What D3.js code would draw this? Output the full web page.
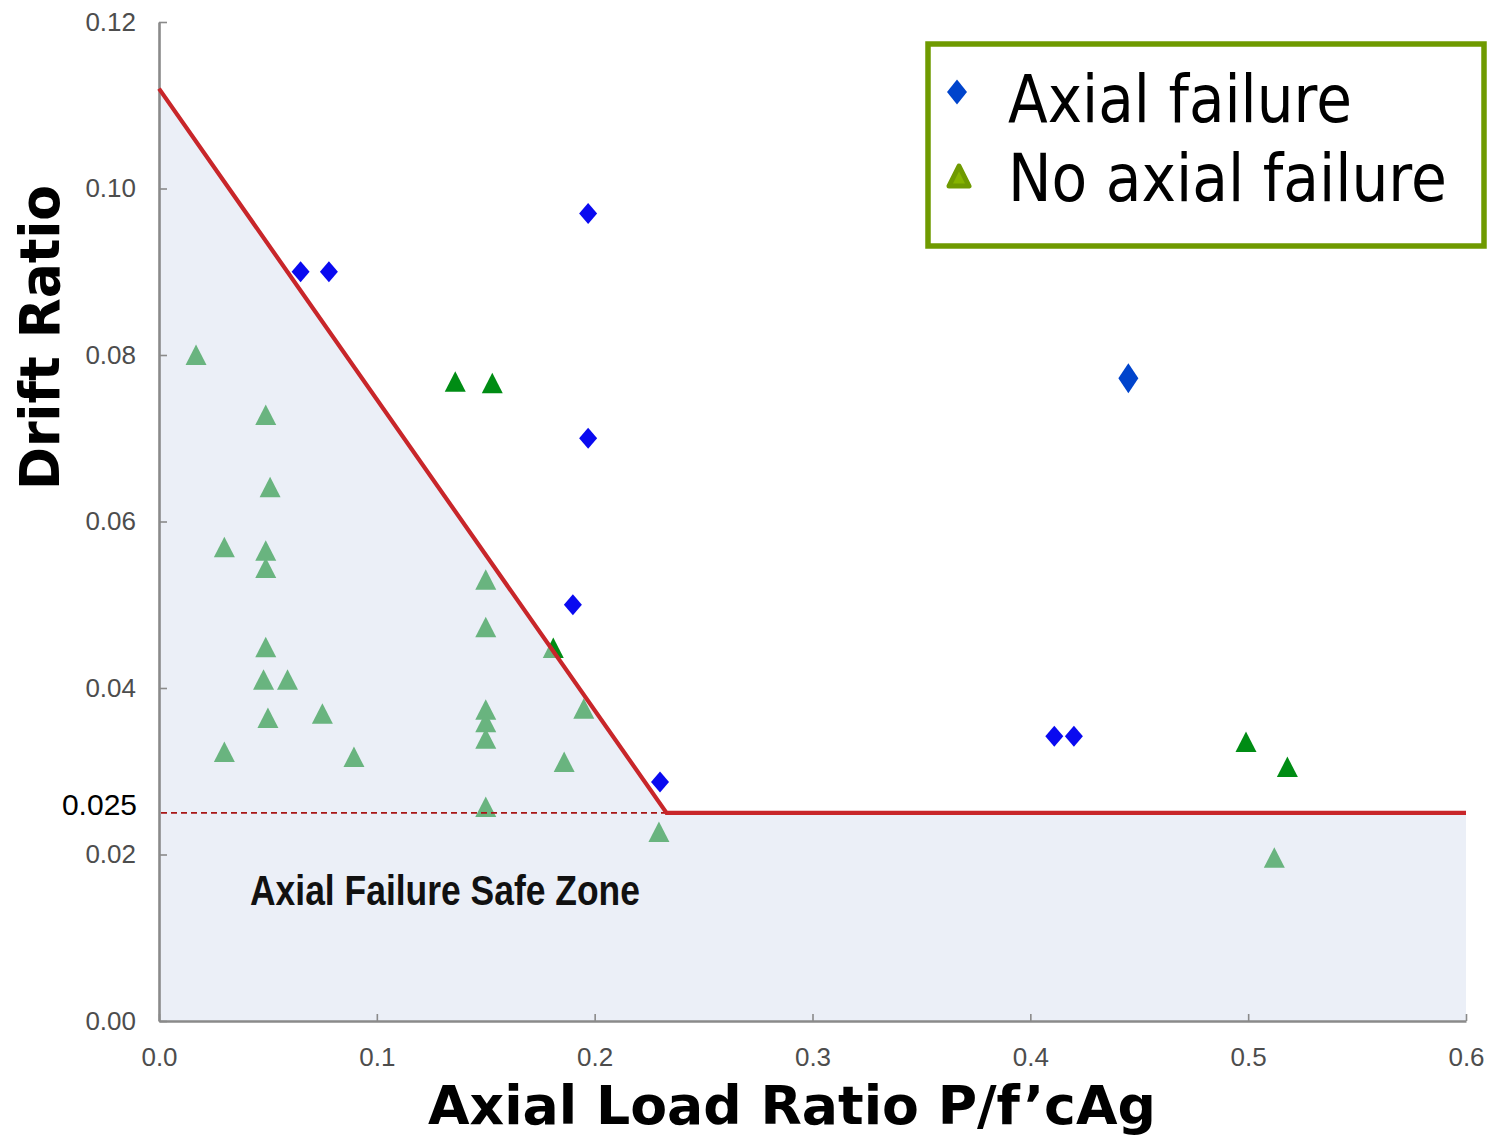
<!DOCTYPE html>
<html>
<head>
<meta charset="utf-8">
<script src="https://cdn.jsdelivr.net/npm/d3@7"></script>
<style>
  html, body { margin: 0; padding: 0; background: #ffffff; }
  svg { display: block; }
</style>
</head>
<body>
<svg id="chart" width="1493" height="1137"></svg>
<script>
// Axial load ratio vs drift ratio at axial failure for column tests

// Columns that reached axial failure: [axial load ratio, drift ratio]
const axialFailureX = [0.065, 0.078, 0.197, 0.197, 0.190, 0.230, 0.411, 0.420];
const axialFailureY = [0.090, 0.090, 0.097, 0.070, 0.050, 0.0287, 0.0342, 0.0342];

// Second group of axial-failure tests
const axialFailure2X = [0.445];
const axialFailure2Y = [0.0772];

// Columns without axial failure
const noFailureX = [0.017, 0.049, 0.051, 0.030, 0.049, 0.049, 0.049, 0.048, 0.059, 0.050,
                    0.075, 0.030, 0.0895, 0.136, 0.153, 0.150, 0.150, 0.150, 0.150, 0.150,
                    0.181, 0.195, 0.186, 0.150, 0.2295, 0.499, 0.518, 0.512];
const noFailureY = [0.080, 0.0728, 0.0641, 0.0569, 0.0565, 0.0544, 0.0449, 0.0410, 0.0410, 0.0364,
                    0.0369, 0.0323, 0.0317, 0.0768, 0.0766, 0.0530, 0.0473, 0.0374, 0.0359, 0.0339,
                    0.0448, 0.0375, 0.0311, 0.0257, 0.0227, 0.0335, 0.0305, 0.0196];

// Safe-zone boundary (bilinear limit)
const limitX = [0, 0.233, 0.6];
const limitY = [0.112, 0.025, 0.025];
const limitDrift = 0.025;

// Axis ticks
const xTicks = [0, 0.1, 0.2, 0.3, 0.4, 0.5, 0.6];
const yTicks = [0, 0.02, 0.04, 0.06, 0.08, 0.10, 0.12];

// Legend entries
const legendLabels = ["Axial failure", "No axial failure"];

const svg = d3.select("#chart");

const x = d3.scaleLinear().domain([0, 0.6]).range([159, 1466]);
const y = d3.scaleLinear().domain([0, 0.12]).range([1021, 22]);

// Marker shapes
const trianglePath = "M0,-10.5L10.5,10L-10.5,10Z";
const diamondPath = (w, h) => `M0,${-h / 2}L${w / 2},0L0,${h / 2}L${-w / 2},0Z`;

// Squeeze a text horizontally so it spans the given width
function fitWidth(sel, width, ox, oy, rotate) {
  const w = sel.node().getComputedTextLength();
  const k = width / w;
  sel.attr("x", 0).attr("y", 0)
    .attr("transform", `translate(${ox},${oy})${rotate ? " rotate(-90)" : ""} scale(${k},1)`);
  return sel;
}

// No-failure triangles (beneath the zone shading)
const triData = noFailureX.map((d, i) => ({ x: d, y: noFailureY[i] }));
svg.append("g").selectAll("path")
  .data(triData)
  .join("path")
  .attr("d", trianglePath)
  .attr("transform", d => `translate(${x(d.x)},${y(d.y)})`)
  .attr("fill", "#008c14");

// Safe zone shading
const zone = [[0, 0], [limitX[0], limitY[0]], [limitX[1], limitY[1]], [limitX[2], limitY[2]], [limitX[2], 0]];
svg.append("path")
  .attr("d", d3.line().x(d => x(d[0])).y(d => y(d[1]))(zone) + "Z")
  .attr("fill", "rgb(214,223,238)")
  .attr("fill-opacity", 0.49);

// Dashed reference at limit drift
svg.append("line")
  .attr("x1", x(0) + 2).attr("x2", x(limitX[1]))
  .attr("y1", y(limitDrift)).attr("y2", y(limitDrift))
  .attr("stroke", "#a81616")
  .attr("stroke-width", 1.8)
  .attr("stroke-dasharray", "6,4");

// Axes
const yAxis = d3.axisLeft(y)
  .tickValues(yTicks)
  .tickFormat(d3.format(".2f"))
  .tickSizeInner(-8)
  .tickSizeOuter(0)
  .tickPadding(23);
const xAxis = d3.axisBottom(x)
  .tickValues(xTicks)
  .tickFormat(d3.format(".1f"))
  .tickSizeInner(-7)
  .tickSizeOuter(0)
  .tickPadding(27);

const gy = svg.append("g").attr("transform", `translate(${x(0)},0)`).call(yAxis);
const gx = svg.append("g").attr("transform", `translate(0,${y(0)})`).call(xAxis);
[gx, gy].forEach(g => {
  g.select(".domain").attr("stroke", "#8a8a8a").attr("stroke-width", 2.6);
  g.selectAll(".tick line").attr("stroke", "#8a8a8a").attr("stroke-width", 1.6);
  g.selectAll(".tick text")
    .attr("fill", "#4d4d4d")
    .style("font-family", "'Liberation Sans', Arial, sans-serif")
    .style("font-size", "26px");
});

// Limit line
svg.append("path")
  .attr("d", d3.line().x((d, i) => x(limitX[i])).y((d, i) => y(limitY[i]))(limitX))
  .attr("fill", "none")
  .attr("stroke", "#c8262a")
  .attr("stroke-width", 4.2)
  .attr("stroke-linejoin", "miter");

// Axial failure diamonds
svg.append("g").selectAll("path")
  .data(axialFailureX.map((d, i) => ({ x: d, y: axialFailureY[i] })))
  .join("path")
  .attr("d", diamondPath(18, 21))
  .attr("transform", d => `translate(${x(d.x)},${y(d.y)})`)
  .attr("fill", "#0a0af0");

svg.append("g").selectAll("path")
  .data(axialFailure2X.map((d, i) => ({ x: d, y: axialFailure2Y[i] })))
  .join("path")
  .attr("d", diamondPath(20, 30))
  .attr("transform", d => `translate(${x(d.x)},${y(d.y)})`)
  .attr("fill", "#0044cc");

// Limit drift label
svg.append("text")
  .attr("x", 137).attr("y", y(limitDrift) - 8)
  .attr("text-anchor", "end")
  .attr("dominant-baseline", "central")
  .style("font-family", "'Liberation Sans', Arial, sans-serif")
  .style("font-size", "30px")
  .style("font-weight", 500)
  .attr("fill", "#000")
  .text("0.025");

// Zone label
fitWidth(svg.append("text")
  .style("font-family", "'Liberation Sans Narrow', 'Arial Narrow', 'Liberation Sans', sans-serif")
  .style("font-size", "43px")
  .style("font-weight", "bold")
  .attr("fill", "#111")
  .text("Axial Failure Safe Zone"), 390, 250, 905);

// Axis titles
fitWidth(svg.append("text")
  .style("font-family", "'DejaVu Sans', Verdana, sans-serif")
  .style("font-size", "54px")
  .style("font-weight", "bold")
  .attr("fill", "#000")
  .text("Axial Load Ratio P/f’cAg"), 728, 428, 1124);

fitWidth(svg.append("text")
  .style("font-family", "'DejaVu Sans', Verdana, sans-serif")
  .style("font-size", "55px")
  .style("font-weight", "bold")
  .attr("fill", "#000")
  .text("Drift Ratio"), 305, 59, 490, true);

// Legend
const legend = svg.append("g");
legend.append("rect")
  .attr("x", 928).attr("y", 44)
  .attr("width", 556).attr("height", 202)
  .attr("fill", "#fff")
  .attr("stroke", "#6f9a00")
  .attr("stroke-width", 5.5);

legend.append("path")
  .attr("d", diamondPath(20, 25))
  .attr("transform", "translate(957,92)")
  .attr("fill", "#0044cc");
legend.append("path")
  .attr("d", "M0,-10L10,10L-10,10Z")
  .attr("transform", "translate(959,176)")
  .attr("fill", "#86b400")
  .attr("stroke", "#6f9a00")
  .attr("stroke-width", 5)
  .attr("stroke-linejoin", "round");

const legendBaselines = [122, 201];
const legendLengths = [344, 439];
legend.selectAll("text.lbl")
  .data(legendLabels)
  .join("text")
  .attr("class", "lbl")
  .style("font-family", "'DejaVu Sans', Verdana, sans-serif")
  .style("font-size", "66px")
  .attr("fill", "#000")
  .text(d => d)
  .each(function (d, i) {
    fitWidth(d3.select(this), legendLengths[i], 1008, legendBaselines[i]);
  });
</script>
</body>
</html>
